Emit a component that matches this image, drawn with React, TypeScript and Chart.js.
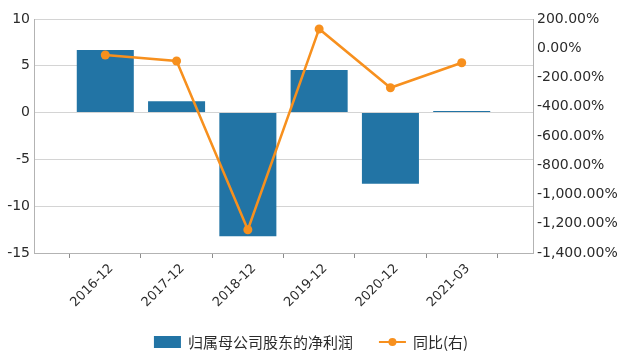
import React, { useEffect, useRef } from "react";
import { Chart, registerables } from "chart.js";

Chart.register(...registerables);

const categories = ["2016-12", "2017-12", "2018-12", "2019-12", "2020-12", "2021-03"];
const netProfit = [6.7, 1.2, -13.2, 4.55, -7.6, 0.17];
const yoyPct = [-46, -87, -1241, 132, -270, -99];
const barLabel = "归属母公司股东的净利润";
const lineLabel = "同比(右)";
const leftTicks = { min: -15, max: 10, step: 5 };
const rightTicks = { min: -1400, max: 200, step: 200 };

const BLUE = "#2274a5";
const ORANGE = "#f7901e";
const TEXT = "#2b2b2b";
const FONT = "DejaVu Sans";

const legendPlugin = {
  id: "customLegend",
  afterDraw(chart: any) {
    const ctx = chart.ctx;
    ctx.save();
    ctx.font = "15px 'Noto Sans CJK SC'";
    const w1 = ctx.measureText(barLabel).width;
    const w2 = ctx.measureText(lineLabel).width;
    const box = 27;
    const gap = 7;
    const itemGap = 26;
    const total = box + gap + w1 + itemGap + box + gap + w2;
    let x = (chart.width - total) / 2 - 3;
    const cy = 342;
    ctx.fillStyle = BLUE;
    ctx.fillRect(x, cy - 6, box, 12);
    x += box + gap;
    ctx.fillStyle = TEXT;
    ctx.textBaseline = "middle";
    ctx.textAlign = "left";
    ctx.fillText(barLabel, x, cy);
    x += w1 + itemGap;
    ctx.strokeStyle = ORANGE;
    ctx.lineWidth = 2;
    ctx.beginPath();
    ctx.moveTo(x, cy);
    ctx.lineTo(x + box, cy);
    ctx.stroke();
    ctx.fillStyle = ORANGE;
    ctx.beginPath();
    ctx.arc(x + box / 2, cy, 4, 0, Math.PI * 2);
    ctx.fill();
    x += box + gap;
    ctx.fillStyle = TEXT;
    ctx.fillText(lineLabel, x, cy);
    ctx.restore();
  },
};

export default function App() {
  const ref = useRef<HTMLCanvasElement>(null);
  useEffect(() => {
    if (!ref.current) return;
    const labels = ["", ...categories, ""];
    const chart = new Chart(ref.current, {
      type: "bar",
      data: {
        labels,
        datasets: [
          {
            type: "bar",
            label: barLabel,
            data: [null, ...netProfit, null],
            backgroundColor: BLUE,
            barPercentage: 0.8,
            categoryPercentage: 1,
            yAxisID: "y",
            order: 1,
          },
          {
            type: "line",
            label: lineLabel,
            data: [null, ...yoyPct, null],
            borderColor: ORANGE,
            backgroundColor: ORANGE,
            borderWidth: 2.5,
            pointRadius: 4.5,
            pointBorderWidth: 0,
            pointBackgroundColor: ORANGE,
            yAxisID: "y1",
            order: 0,
            spanGaps: false,
          } as any,
        ],
      },
      options: {
        animation: false,
        responsive: false,
        maintainAspectRatio: false,
        layout: { padding: { top: 19, bottom: 40, left: 0, right: 0 } },
        plugins: { legend: { display: false }, tooltip: { enabled: false } },
        scales: {
          x: {
            type: "category",
            offset: false,
            grid: { display: true, drawOnChartArea: false, drawTicks: true, tickLength: 5, color: "#8c8c8c" },
            border: { display: true, color: "#b3b3b3" },
            ticks: {
              autoSkip: false,
              maxRotation: 45,
              minRotation: 45,
              color: TEXT,
              font: { family: FONT, size: 13 },
              padding: 3,
              labelOffset: 6,
            },
            afterFit(scale: any) {
              scale.height = 71;
            },
          },
          y: {
            position: "left",
            min: leftTicks.min,
            max: leftTicks.max,
            ticks: { stepSize: leftTicks.step, color: TEXT, font: { family: FONT, size: 14 }, padding: 4 },
            grid: { color: "#d4d4d4", drawTicks: false },
            border: { display: true, color: "#b3b3b3" },
            afterFit(scale: any) {
              scale.width = 34;
            },
          },
          y1: {
            position: "right",
            min: rightTicks.min,
            max: rightTicks.max,
            ticks: {
              stepSize: rightTicks.step,
              color: TEXT,
              font: { family: FONT, size: 14 },
              padding: 4,
              callback: (v: any) =>
                Number(v).toLocaleString("en-US", { minimumFractionDigits: 2, maximumFractionDigits: 2 }) + "%",
            },
            grid: { drawOnChartArea: false, drawTicks: false },
            border: { display: true, color: "#b3b3b3" },
            afterFit(scale: any) {
              scale.width = 95;
            },
          },
        },
      },
      plugins: [legendPlugin],
    });
    return () => chart.destroy();
  }, []);
  return (
    <div style={{ position: "absolute", left: 0, top: 0, width: 628, height: 364, background: "#fff" }}>
      <canvas ref={ref} width={628} height={364} style={{ width: 628, height: 364, display: "block" }} />
    </div>
  );
}
